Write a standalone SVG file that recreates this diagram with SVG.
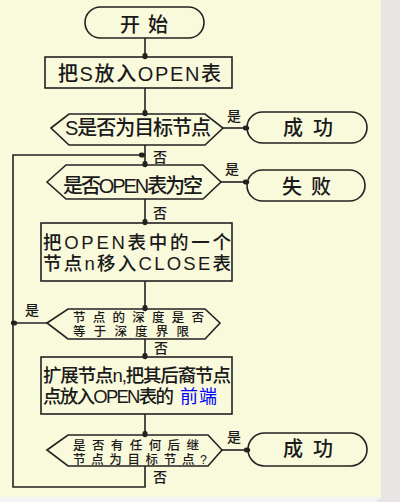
<svg xmlns="http://www.w3.org/2000/svg" width="400" height="502" viewBox="0 0 400 502">
<style>
.shape{fill:none;stroke:#222;stroke-width:1.6}
.conn{fill:none;stroke:#222;stroke-width:1.6}
.t{font-family:"Liberation Sans","Noto Sans CJK SC",sans-serif;font-size:20px;fill:#1a1a1a;font-weight:500}
.b{font-family:"Liberation Sans","Noto Sans CJK SC",sans-serif;font-size:18.5px;fill:#1a1a1a;font-weight:500}
.s{font-family:"Liberation Sans","Noto Sans CJK SC",sans-serif;font-size:12.5px;fill:#1a1a1a;font-weight:500}
.l{font-family:"Liberation Sans","Noto Sans CJK SC",sans-serif;font-size:14px;fill:#1a1a1a;font-weight:500}
.blue{font-family:"Liberation Sans","Noto Sans CJK SC",sans-serif;font-size:18px;fill:#0000ff;font-weight:400}
</style>
<defs>
<marker id="dot" markerWidth="7" markerHeight="7" refX="4.5" refY="3.5" orient="auto" markerUnits="userSpaceOnUse"><ellipse cx="3.5" cy="3.5" rx="3.2" ry="2.6" fill="#222"/></marker>
</defs>
<rect x="0" y="0" width="400" height="502" fill="#f9f9dc"/>
<rect x="0" y="497" width="381" height="5" fill="#f3f3f3"/>
<rect x="381" y="0" width="19" height="502" fill="#e9e5e5"/>
<rect x="377" y="499" width="4" height="3" fill="#e9e5e5"/>

<g id="connectors">
<line class="conn" x1="145" y1="38" x2="145" y2="57" marker-end="url(#dot)"/>
<line class="conn" x1="145" y1="88" x2="145" y2="114" marker-end="url(#dot)"/>
<line class="conn" x1="223" y1="128" x2="247" y2="128" marker-end="url(#dot)"/>
<line class="conn" x1="145" y1="145" x2="145" y2="165" marker-end="url(#dot)"/>
<line class="conn" x1="221" y1="182" x2="247" y2="182" marker-end="url(#dot)"/>
<line class="conn" x1="145" y1="199" x2="145" y2="223" marker-end="url(#dot)"/>
<line class="conn" x1="145" y1="281" x2="145" y2="309" marker-end="url(#dot)"/>
<line class="conn" x1="47" y1="323" x2="13" y2="323" marker-end="url(#dot)"/>
<line class="conn" x1="145" y1="339" x2="145" y2="357" marker-end="url(#dot)"/>
<line class="conn" x1="145" y1="414" x2="145" y2="435" marker-end="url(#dot)"/>
<line class="conn" x1="222" y1="450" x2="248" y2="450" marker-end="url(#dot)"/>
<polyline class="conn" points="145,466 145,487 13,487 13,155 143,155" marker-end="url(#dot)"/>
<text class="l" x="227" y="121">是</text>
<text class="l" x="153" y="162">否</text>
<text class="l" x="225" y="174">是</text>
<text class="l" x="153" y="218">否</text>
<text class="l" x="25" y="315">是</text>
<text class="l" x="154" y="353">否</text>
<text class="l" x="227" y="442">是</text>
<text class="l" x="153" y="482">否</text>
</g>

<g id="start">
<rect class="shape" x="85" y="7" width="119" height="31" rx="15.5"/>
<text class="t" x="120" y="31.6" textLength="48">开始</text>
</g>
<g id="putS">
<rect class="shape" x="45" y="57" width="187" height="31"/>
<text class="t" x="58" y="80.6" textLength="163">把S放入OPEN表</text>
</g>
<g id="isGoal">
<polygon class="shape" points="51,128 69,114 205,114 223,128 205,145 69,145"/>
<text class="t" x="65" y="134.6" textLength="146">S是否为目标节点</text>
</g>
<g id="success1">
<rect class="shape" x="247" y="112" width="120" height="31" rx="15.5"/>
<text class="t" x="283" y="134.6" textLength="50">成功</text>
</g>
<g id="isEmpty">
<polygon class="shape" points="47,182 66,165 203,165 221,182 203,199 66,199"/>
<text class="t" x="63" y="192.6" textLength="140">是否OPEN表为空</text>
</g>
<g id="fail">
<rect class="shape" x="247" y="170" width="118" height="31" rx="15.5"/>
<text class="t" x="282" y="193.6" textLength="49">失败</text>
</g>
<g id="moveN">
<rect class="shape" x="41" y="223" width="191" height="58"/>
<text class="b" x="43" y="249" textLength="188">把OPEN表中的一个</text>
<text class="b" x="43" y="270" textLength="188">节点n移入CLOSE表</text>
</g>
<g id="depth">
<polygon class="shape" points="47,323 68,309 205,309 220,323 205,339 68,339"/>
<text class="s" x="73" y="322" textLength="131">节点的深度是否</text>
<text class="s" x="73" y="336" textLength="116">等于深度界限</text>
</g>
<g id="expand">
<rect class="shape" x="41" y="357" width="191" height="57"/>
<text class="b" x="43" y="382" textLength="188">扩展节点n,把其后裔节点</text>
<text class="b" x="43" y="403" textLength="131">点放入OPEN表的</text>
<text class="blue" x="180" y="402.5" textLength="37">前端</text>
</g>
<g id="anyGoal">
<polygon class="shape" points="47,450 68,435 208,435 222,450 208,466 68,466"/>
<text class="s" x="73" y="450" textLength="126">是否有任何后继</text>
<text class="s" x="73" y="464" textLength="134">节点为目标节点?</text>
</g>
<g id="success2">
<rect class="shape" x="248" y="433" width="119" height="33" rx="16.5"/>
<text class="t" x="283" y="455.6" textLength="50">成功</text>
</g>
</svg>
